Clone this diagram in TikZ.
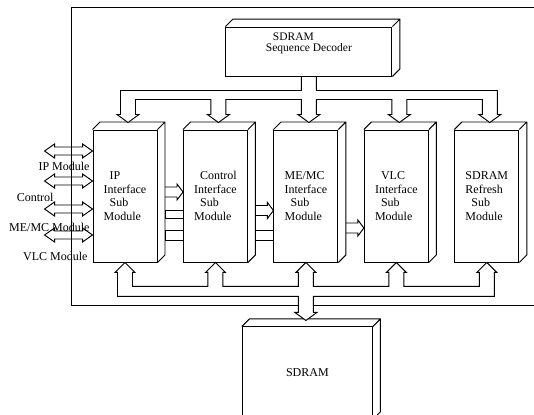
\documentclass[tikz,border=0pt]{standalone}
\usepackage{fontspec}
\setmainfont{Liberation Serif}
\usetikzlibrary{positioning, calc}

% hollow arrow heads, used inside the bus outlines
\newcommand{\headdown}{-- ++(-3.5,0) -- ++(11,-8) -- ++(11,8) -- ++(-3.5,0)}
\newcommand{\headup}{-- ++(-2.5,0) -- ++(10,10) -- ++(10,-10) -- ++(-2.5,0)}
\newcommand{\ind}{\hspace*{6pt}}

\begin{document}
\begin{tikzpicture}[x=1pt, y=1pt, line width=0.95pt,
  font=\fontsize{12}{13.5}\selectfont, node distance=25.5pt,
  modul/.style={draw, minimum width=64pt, minimum height=132pt, inner sep=0pt, align=left},
  bus/.style={draw, fill=white},
  lbl/.style={anchor=east, inner sep=0pt}]
  \useasboundingbox (0,0) rectangle (534,414);
  \clip (0,0) rectangle (534,414);
  % outer frame, open to the right
  \draw (540,406.5) -| (71.5,108.5) -- (540,108.5);

  \node[modul] (ip) at (125,218) {\ind IP\\Interface\\\ind Sub\\Module};
  \node[modul, right=of ip] (ctl) {\ind Control\\Interface\\\ind Sub\\Module};
  \node[modul, right=of ctl] (mem) {ME/MC\\Interface\\\ind Sub\\Module};
  \node[modul, right=of mem] (vlc) {\ind VLC\\Interface\\\ind Sub\\Module};
  \node[modul, right=of vlc] (ref) {SDRAM\\Refresh\\\ind Sub\\Module};
  \node[draw, minimum width=166pt, minimum height=49pt, align=left,
    font=\fontsize{11.5}{11.5}\selectfont, above=53pt of mem, xshift=3pt] (dec)
    {\hspace*{7pt}SDRAM\\Sequence Decoder\\[7pt]\mbox{}};
  \node[draw, minimum width=130pt, minimum height=92pt, below=64pt of mem, xshift=1.5pt] (ram) {SDRAM};

  % depth faces of the boxes
  \foreach \n in {dec,ip,ctl,mem,vlc,ref,ram}
    \draw (\n.north west) -- ++(7.5,7.5) -| ($(\n.south east)+(7.5,7.5)$) -- (\n.south east)
      (\n.north east) -- ++(7.5,7.5);

  % external ports
  \foreach \dy in {45,15,-13,-39}
    \draw ($(ip.west)+(0,\dy)$) -- ++(-10,7) -- ++(0,-3) -- ++(-28,0) -- ++(0,3) -- ++(-10,-7)
      -- ++(10,-7) -- ++(0,3) -- ++(28,0) -- ++(0,-3) -- cycle;
  \node[lbl] (lip) at (90,248) {IP Module};
  \node[lbl] (lctl) at (54,217) {Control};
  \node[lbl] (lmem) at (90,187) {ME/MC Module};
  \node[lbl] (lvlc) at (88,158) {VLC Module};

  % links between the sub modules
  \draw ($(ip.east)+(7.5,9)$) -- ($(ctl.west)+(-6,9)$) -- ++(0,3) -- ++(6,-8) -- ++(-6,-8)
    -- ++(0,3) -- ($(ip.east)+(7.5,-1)$);
  \draw ($(ip.east)+(7.5,-14)$) rectangle ($(ctl.west)+(0,-22)$);
  \draw ($(ip.east)+(7.5,-34)$) rectangle ($(ctl.west)+(0,-44)$);
  \draw ($(ctl.east)+(7.5,-9.5)$) -- ($(mem.west)+(-6,-9.5)$) -- ++(0,3) -- ++(6,-8) -- ++(-6,-8)
    -- ++(0,3) -- ($(ctl.east)+(7.5,-19.5)$);
  \draw ($(ctl.east)+(7.5,-34)$) rectangle ($(mem.west)+(0,-44)$);
  \draw ($(mem.east)+(7.5,-27)$) -- ($(vlc.west)+(-6,-27)$) -- ++(0,3) -- ++(6,-8) -- ++(-6,-8)
    -- ++(0,3) -- ($(mem.east)+(7.5,-37)$);

  % decoder bus
  \draw[bus] ($(dec.south)+(-7.5,0)$) |- ($(ip.north)+(-4.5,39)$) -- ++(0,-24) \headdown
    |- ($(ctl.north)+(-4.5,30)$) -- ++(0,-15) \headdown
    |- ($(mem.north)+(-4.5,30)$) -- ++(0,-15) \headdown
    |- ($(vlc.north)+(-4.5,30)$) -- ++(0,-15) \headdown
    |- ($(ref.north)+(-4.5,30)$) -- ++(0,-15) \headdown
    -- ++(0,24) -| ($(dec.south)+(7.5,0)$) -- cycle;
  % memory bus
  \draw[bus] ($(mem.south)+(-7.5,-50)$) |- ($(ip.south)+(-7.5,-34)$) -- ++(0,24) \headup
    |- ($(ctl.south)+(-7.5,-24)$) -- ++(0,14) \headup
    |- ($(mem.south)+(-7.5,-24)$) -- ++(0,14) \headup
    |- ($(vlc.south)+(-7.5,-24)$) -- ++(0,14) \headup
    |- ($(ref.south)+(-7.5,-24)$) -- ++(0,14) \headup
    -- ++(0,-24) -| ($(mem.south)+(7.5,-50)$) -- ++(3.5,0) -- ++(-11,-8) -- ++(-11,8) -- cycle;
\end{tikzpicture}
\end{document}
